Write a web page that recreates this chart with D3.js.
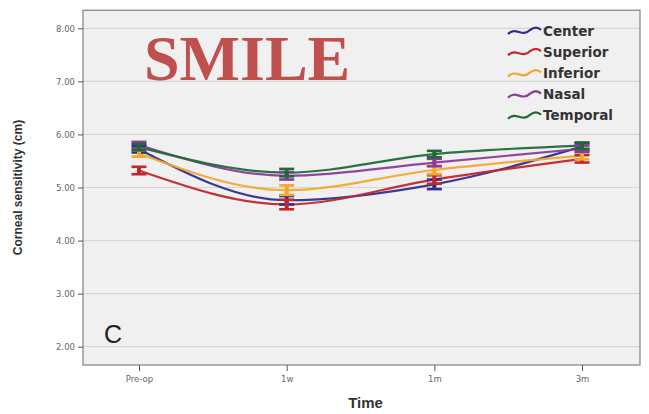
<!DOCTYPE html>
<html><head><meta charset="utf-8">
<script src="https://cdn.jsdelivr.net/npm/d3@7"></script>
<style>body{margin:0;background:#fff}svg{display:block}</style>
</head><body>
<svg id="c" width="649" height="414"></svg>
<script>
const categories = ["Pre-op", "1w", "1m", "3m"];
const seriesNames = ["Center", "Superior", "Inferior", "Nasal", "Temporal"];
const center   = [5.72, 4.76, 5.06, 5.77];
const superior = [5.32, 4.68, 5.15, 5.54];
const inferior = [5.64, 4.95, 5.33, 5.60];
const nasal    = [5.80, 5.22, 5.47, 5.73];
const temporal = [5.76, 5.28, 5.63, 5.79];
const errCenter   = [0.06, 0.08, 0.09, 0.06];
const errSuperior = [0.07, 0.09, 0.08, 0.07];
const errInferior = [0.06, 0.09, 0.08, 0.07];
const errNasal    = [0.06, 0.07, 0.07, 0.06];
const errTemporal = [0.06, 0.07, 0.06, 0.06];
const yTicks = [2, 3, 4, 5, 6, 7, 8];
const colors = ["#2d2f8e", "#c1272d", "#f4a72e", "#8c3a9b", "#1d6a38"];

const series = seriesNames.map((n, i) => ({
  name: n,
  values: [center, superior, inferior, nasal, temporal][i],
  errs: [errCenter, errSuperior, errInferior, errNasal, errTemporal][i],
  color: colors[i]
}));

const svg = d3.select("#c");
const x = d3.scalePoint().domain(categories).range([139, 582]);
const y = d3.scaleLinear().domain([2, 8]).range([346.7, 28.3]);
const frame = {l: 83, r: 640, t: y(8.34), b: y(1.655)};

svg.append("rect").attr("x", frame.l).attr("y", frame.t)
  .attr("width", frame.r - frame.l).attr("height", frame.b - frame.t)
  .attr("fill", "#f0f0f0");
svg.append("g").selectAll("line").data(yTicks).join("line")
  .attr("x1", frame.l).attr("x2", frame.r)
  .attr("y1", d => y(d)).attr("y2", d => y(d))
  .attr("stroke", "#d6d6d6").attr("stroke-width", 1.2);
svg.append("rect").attr("x", frame.l).attr("y", frame.t)
  .attr("width", frame.r - frame.l).attr("height", frame.b - frame.t)
  .attr("fill", "none").attr("stroke", "#8a8a8a").attr("stroke-width", 1.3);

const yAxis = d3.axisLeft(y).tickValues(yTicks).tickFormat(d3.format(".2f")).tickSizeOuter(0).tickSize(5).tickPadding(3);
const gy = svg.append("g").attr("transform", `translate(${frame.l},0)`).call(yAxis);
gy.select(".domain").remove();
gy.selectAll("line").attr("stroke", "#555");
gy.selectAll("text").attr("font-family", "'DejaVu Sans', Verdana, sans-serif")
  .attr("font-size", 8.5).attr("fill", "#666");

const xAxis = d3.axisBottom(x).tickSize(6).tickPadding(5).tickSizeOuter(0);
const gx = svg.append("g").attr("transform", `translate(0,${frame.b})`).call(xAxis);
gx.select(".domain").remove();
gx.selectAll("line").attr("stroke", "#555");
gx.selectAll("text").attr("font-family", "'DejaVu Sans', Verdana, sans-serif")
  .attr("font-size", 8.5).attr("fill", "#666");

svg.append("text").attr("transform", `translate(22,${(y(2)+y(8))/2}) rotate(-90)`)
  .attr("text-anchor", "middle").attr("font-family", "'Liberation Sans Narrow', Arial, sans-serif")
  .attr("font-size", 12).attr("font-weight", "bold").attr("fill", "#333")
  .text("Corneal sensitivity (cm)");
svg.append("text").attr("x", (frame.l + frame.r) / 2 + 4).attr("y", 408)
  .attr("text-anchor", "middle").attr("font-family", "'Liberation Sans Narrow', Arial, sans-serif")
  .attr("font-size", 15).attr("font-weight", "bold").attr("fill", "#333").text("Time");

const line = d3.line().x((d, i) => x(categories[i])).y(d => y(d)).curve(d3.curveMonotoneX);
const lg = svg.append("g");
series.forEach(s => {
  lg.append("path").attr("d", line(s.values)).attr("fill", "none")
    .attr("stroke", s.color).attr("stroke-width", 2.2).attr("stroke-opacity", 0.95);
});
series.forEach(s => {
  const g = svg.append("g").attr("stroke", s.color).attr("stroke-width", 2.6);
  s.values.forEach((v, i) => {
    const cx = x(categories[i]);
    const y1 = y(v + s.errs[i]), y2 = y(v - s.errs[i]);
    g.append("line").attr("x1", cx).attr("x2", cx).attr("y1", y1).attr("y2", y2).attr("stroke-width", 4);
    g.append("line").attr("x1", cx - 7.5).attr("x2", cx + 7.5).attr("y1", y1).attr("y2", y1);
    g.append("line").attr("x1", cx - 7.5).attr("x2", cx + 7.5).attr("y1", y2).attr("y2", y2);
  });
});

const leg = svg.append("g");
series.forEach((s, i) => {
  const ly = 31 + i * 21.2;
  leg.append("path").attr("d", `M508,${ly+3} C516,${ly-5} 522,${ly+7} 530,${ly-1} C534,${ly-4} 538,${ly-4} 541,${ly-1}`)
    .attr("fill", "none").attr("stroke", s.color).attr("stroke-width", 2.2);
  leg.append("text").attr("x", 543).attr("y", ly + 4.5)
    .attr("font-family", "'DejaVu Sans', Verdana, sans-serif").attr("font-size", 13.5)
    .attr("font-weight", "bold").attr("fill", "#333").text(s.name);
});

svg.append("text").attr("x", 144).attr("y", 80)
  .attr("font-family", "'Liberation Serif', 'Times New Roman', serif").attr("font-size", 64)
  .attr("font-weight", "bold").attr("fill", "#c0504d").text("SMILE");
svg.append("text").attr("x", 104).attr("y", 343)
  .attr("font-family", "Arial, 'Liberation Sans', sans-serif").attr("font-size", 25)
  .attr("fill", "#222").text("C");
</script>
</body></html>
